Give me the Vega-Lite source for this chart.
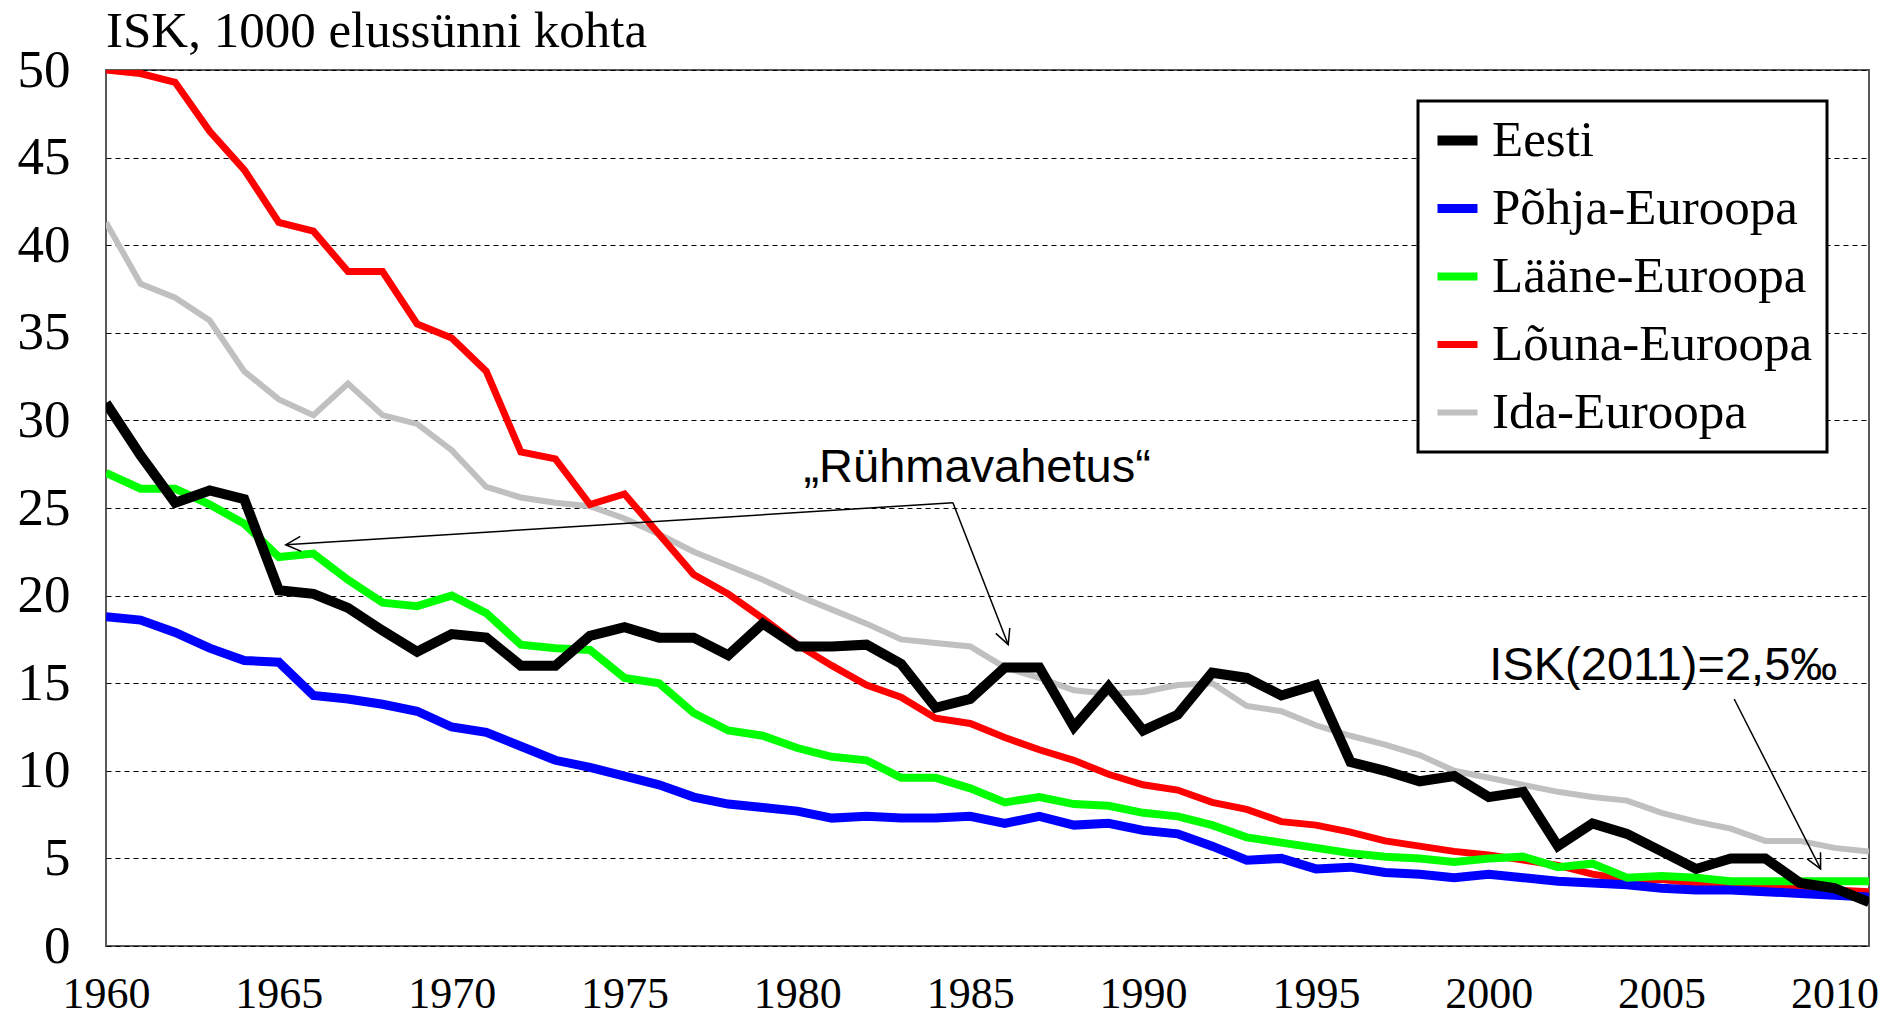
{
  "$schema": "https://vega.github.io/schema/vega-lite/v6.json",
  "width": 1763,
  "height": 876,
  "autosize": {"type": "none"},
  "padding": {"left": 106, "top": 70, "right": 19, "bottom": 74},
  "background": "white",
  "config": {
    "view": {"stroke": "#595959", "strokeWidth": 2},
    "axis": {"labelColor": "black", "ticks": false, "domain": false, "title": null, "labelFlush": false, "labelOverlap": false}
  },
  "datasets": {
    "isk": [
      {"year": 1960, "Eesti": 31.0, "Põhja-Euroopa": 18.8, "Lääne-Euroopa": 27.0, "Lõuna-Euroopa": 50.0, "Ida-Euroopa": 41.3},
      {"year": 1961, "Eesti": 28.0, "Põhja-Euroopa": 18.6, "Lääne-Euroopa": 26.1, "Lõuna-Euroopa": 49.8, "Ida-Euroopa": 37.8},
      {"year": 1962, "Eesti": 25.3, "Põhja-Euroopa": 17.9, "Lääne-Euroopa": 26.1, "Lõuna-Euroopa": 49.3, "Ida-Euroopa": 37.0},
      {"year": 1963, "Eesti": 26.0, "Põhja-Euroopa": 17.0, "Lääne-Euroopa": 25.2, "Lõuna-Euroopa": 46.5, "Ida-Euroopa": 35.7},
      {"year": 1964, "Eesti": 25.5, "Põhja-Euroopa": 16.3, "Lääne-Euroopa": 24.1, "Lõuna-Euroopa": 44.3, "Ida-Euroopa": 32.8},
      {"year": 1965, "Eesti": 20.3, "Põhja-Euroopa": 16.2, "Lääne-Euroopa": 22.2, "Lõuna-Euroopa": 41.3, "Ida-Euroopa": 31.2},
      {"year": 1966, "Eesti": 20.1, "Põhja-Euroopa": 14.3, "Lääne-Euroopa": 22.4, "Lõuna-Euroopa": 40.8, "Ida-Euroopa": 30.3},
      {"year": 1967, "Eesti": 19.3, "Põhja-Euroopa": 14.1, "Lääne-Euroopa": 20.9, "Lõuna-Euroopa": 38.5, "Ida-Euroopa": 32.1},
      {"year": 1968, "Eesti": 18.0, "Põhja-Euroopa": 13.8, "Lääne-Euroopa": 19.6, "Lõuna-Euroopa": 38.5, "Ida-Euroopa": 30.3},
      {"year": 1969, "Eesti": 16.8, "Põhja-Euroopa": 13.4, "Lääne-Euroopa": 19.4, "Lõuna-Euroopa": 35.5, "Ida-Euroopa": 29.8},
      {"year": 1970, "Eesti": 17.8, "Põhja-Euroopa": 12.5, "Lääne-Euroopa": 20.0, "Lõuna-Euroopa": 34.7, "Ida-Euroopa": 28.3},
      {"year": 1971, "Eesti": 17.6, "Põhja-Euroopa": 12.2, "Lääne-Euroopa": 19.0, "Lõuna-Euroopa": 32.8, "Ida-Euroopa": 26.2},
      {"year": 1972, "Eesti": 16.0, "Põhja-Euroopa": 11.4, "Lääne-Euroopa": 17.2, "Lõuna-Euroopa": 28.2, "Ida-Euroopa": 25.6},
      {"year": 1973, "Eesti": 16.0, "Põhja-Euroopa": 10.6, "Lääne-Euroopa": 17.0, "Lõuna-Euroopa": 27.8, "Ida-Euroopa": 25.3},
      {"year": 1974, "Eesti": 17.7, "Põhja-Euroopa": 10.2, "Lääne-Euroopa": 16.9, "Lõuna-Euroopa": 25.2, "Ida-Euroopa": 25.1},
      {"year": 1975, "Eesti": 18.2, "Põhja-Euroopa": 9.7, "Lääne-Euroopa": 15.3, "Lõuna-Euroopa": 25.8, "Ida-Euroopa": 24.4},
      {"year": 1976, "Eesti": 17.6, "Põhja-Euroopa": 9.2, "Lääne-Euroopa": 15.0, "Lõuna-Euroopa": 23.5, "Ida-Euroopa": 23.5},
      {"year": 1977, "Eesti": 17.6, "Põhja-Euroopa": 8.5, "Lääne-Euroopa": 13.3, "Lõuna-Euroopa": 21.2, "Ida-Euroopa": 22.5},
      {"year": 1978, "Eesti": 16.6, "Põhja-Euroopa": 8.1, "Lääne-Euroopa": 12.3, "Lõuna-Euroopa": 20.1, "Ida-Euroopa": 21.7},
      {"year": 1979, "Eesti": 18.4, "Põhja-Euroopa": 7.9, "Lääne-Euroopa": 12.0, "Lõuna-Euroopa": 18.7, "Ida-Euroopa": 20.9},
      {"year": 1980, "Eesti": 17.1, "Põhja-Euroopa": 7.7, "Lääne-Euroopa": 11.3, "Lõuna-Euroopa": 17.2, "Ida-Euroopa": 20.0},
      {"year": 1981, "Eesti": 17.1, "Põhja-Euroopa": 7.3, "Lääne-Euroopa": 10.8, "Lõuna-Euroopa": 16.0, "Ida-Euroopa": 19.2},
      {"year": 1982, "Eesti": 17.2, "Põhja-Euroopa": 7.4, "Lääne-Euroopa": 10.6, "Lõuna-Euroopa": 14.9, "Ida-Euroopa": 18.4},
      {"year": 1983, "Eesti": 16.1, "Põhja-Euroopa": 7.3, "Lääne-Euroopa": 9.6, "Lõuna-Euroopa": 14.2, "Ida-Euroopa": 17.5},
      {"year": 1984, "Eesti": 13.6, "Põhja-Euroopa": 7.3, "Lääne-Euroopa": 9.6, "Lõuna-Euroopa": 13.0, "Ida-Euroopa": 17.3},
      {"year": 1985, "Eesti": 14.1, "Põhja-Euroopa": 7.4, "Lääne-Euroopa": 9.0, "Lõuna-Euroopa": 12.7, "Ida-Euroopa": 17.1},
      {"year": 1986, "Eesti": 15.9, "Põhja-Euroopa": 7.0, "Lääne-Euroopa": 8.2, "Lõuna-Euroopa": 11.9, "Ida-Euroopa": 15.9},
      {"year": 1987, "Eesti": 15.9, "Põhja-Euroopa": 7.4, "Lääne-Euroopa": 8.5, "Lõuna-Euroopa": 11.2, "Ida-Euroopa": 15.3},
      {"year": 1988, "Eesti": 12.5, "Põhja-Euroopa": 6.9, "Lääne-Euroopa": 8.1, "Lõuna-Euroopa": 10.6, "Ida-Euroopa": 14.6},
      {"year": 1989, "Eesti": 14.8, "Põhja-Euroopa": 7.0, "Lääne-Euroopa": 8.0, "Lõuna-Euroopa": 9.8, "Ida-Euroopa": 14.4},
      {"year": 1990, "Eesti": 12.3, "Põhja-Euroopa": 6.6, "Lääne-Euroopa": 7.6, "Lõuna-Euroopa": 9.2, "Ida-Euroopa": 14.5},
      {"year": 1991, "Eesti": 13.2, "Põhja-Euroopa": 6.4, "Lääne-Euroopa": 7.4, "Lõuna-Euroopa": 8.9, "Ida-Euroopa": 14.9},
      {"year": 1992, "Eesti": 15.6, "Põhja-Euroopa": 5.7, "Lääne-Euroopa": 6.9, "Lõuna-Euroopa": 8.2, "Ida-Euroopa": 15.0},
      {"year": 1993, "Eesti": 15.3, "Põhja-Euroopa": 4.9, "Lääne-Euroopa": 6.2, "Lõuna-Euroopa": 7.8, "Ida-Euroopa": 13.7},
      {"year": 1994, "Eesti": 14.3, "Põhja-Euroopa": 5.0, "Lääne-Euroopa": 5.9, "Lõuna-Euroopa": 7.1, "Ida-Euroopa": 13.4},
      {"year": 1995, "Eesti": 14.9, "Põhja-Euroopa": 4.4, "Lääne-Euroopa": 5.6, "Lõuna-Euroopa": 6.9, "Ida-Euroopa": 12.6},
      {"year": 1996, "Eesti": 10.5, "Põhja-Euroopa": 4.5, "Lääne-Euroopa": 5.3, "Lõuna-Euroopa": 6.5, "Ida-Euroopa": 12.0},
      {"year": 1997, "Eesti": 10.0, "Põhja-Euroopa": 4.2, "Lääne-Euroopa": 5.1, "Lõuna-Euroopa": 6.0, "Ida-Euroopa": 11.5},
      {"year": 1998, "Eesti": 9.4, "Põhja-Euroopa": 4.1, "Lääne-Euroopa": 5.0, "Lõuna-Euroopa": 5.7, "Ida-Euroopa": 10.9},
      {"year": 1999, "Eesti": 9.7, "Põhja-Euroopa": 3.9, "Lääne-Euroopa": 4.8, "Lõuna-Euroopa": 5.4, "Ida-Euroopa": 10.0},
      {"year": 2000, "Eesti": 8.5, "Põhja-Euroopa": 4.1, "Lääne-Euroopa": 5.0, "Lõuna-Euroopa": 5.2, "Ida-Euroopa": 9.6},
      {"year": 2001, "Eesti": 8.8, "Põhja-Euroopa": 3.9, "Lääne-Euroopa": 5.1, "Lõuna-Euroopa": 4.9, "Ida-Euroopa": 9.2},
      {"year": 2002, "Eesti": 5.7, "Põhja-Euroopa": 3.7, "Lääne-Euroopa": 4.5, "Lõuna-Euroopa": 4.6, "Ida-Euroopa": 8.8},
      {"year": 2003, "Eesti": 7.0, "Põhja-Euroopa": 3.6, "Lääne-Euroopa": 4.7, "Lõuna-Euroopa": 4.1, "Ida-Euroopa": 8.5},
      {"year": 2004, "Eesti": 6.4, "Põhja-Euroopa": 3.5, "Lääne-Euroopa": 3.9, "Lõuna-Euroopa": 3.8, "Ida-Euroopa": 8.3},
      {"year": 2005, "Eesti": 5.4, "Põhja-Euroopa": 3.3, "Lääne-Euroopa": 4.0, "Lõuna-Euroopa": 3.8, "Ida-Euroopa": 7.6},
      {"year": 2006, "Eesti": 4.4, "Põhja-Euroopa": 3.2, "Lääne-Euroopa": 3.9, "Lõuna-Euroopa": 3.6, "Ida-Euroopa": 7.1},
      {"year": 2007, "Eesti": 5.0, "Põhja-Euroopa": 3.2, "Lääne-Euroopa": 3.7, "Lõuna-Euroopa": 3.4, "Ida-Euroopa": 6.7},
      {"year": 2008, "Eesti": 5.0, "Põhja-Euroopa": 3.1, "Lääne-Euroopa": 3.7, "Lõuna-Euroopa": 3.3, "Ida-Euroopa": 6.0},
      {"year": 2009, "Eesti": 3.6, "Põhja-Euroopa": 3.0, "Lääne-Euroopa": 3.7, "Lõuna-Euroopa": 3.3, "Ida-Euroopa": 6.0},
      {"year": 2010, "Eesti": 3.3, "Põhja-Euroopa": 2.9, "Lääne-Euroopa": 3.7, "Lõuna-Euroopa": 3.2, "Ida-Euroopa": 5.6},
      {"year": 2011, "Eesti": 2.5, "Põhja-Euroopa": 2.8, "Lääne-Euroopa": 3.7, "Lõuna-Euroopa": 3.1, "Ida-Euroopa": 5.4}
    ],
    "arrows": [
      {"x1": 1984.5, "y1": 25.3, "x2": 1965.2, "y2": 22.9, "ang": 176.4},
      {"x1": 1984.5, "y1": 25.3, "x2": 1986.1, "y2": 17.2, "ang": 68.7},
      {"x1": 2007.1, "y1": 14.1, "x2": 2009.6, "y2": 4.4, "ang": 63.1}
    ],
    "labels": [
      {"x": 1985.2, "y": 26.5, "label": "„Rühmavahetus“"},
      {"x": 2005.05, "y": 15.2, "label": "ISK(2011)=2,5‰"}
    ],
    "heading": [
      {"x": 1960, "y": 51.3, "label": "ISK, 1000 elussünni kohta"}
    ]
  },
  "layer": [
    {
      "data": {"name": "isk"},
      "transform": [
        {"fold": ["Ida-Euroopa", "Lõuna-Euroopa", "Põhja-Euroopa", "Lääne-Euroopa", "Eesti"], "as": ["region", "value"]}
      ],
      "mark": {"type": "line", "clip": true, "strokeJoin": "miter", "strokeCap": "butt"},
      "encoding": {
        "x": {
          "field": "year", "type": "quantitative",
          "scale": {"domain": [1960, 2011], "nice": false, "zero": false},
          "axis": {
            "values": [1960, 1965, 1970, 1975, 1980, 1985, 1990, 1995, 2000, 2005, 2010],
            "format": "d", "grid": false,
            "labelFont": "Liberation Serif", "labelFontSize": 44, "labelPadding": 26
          }
        },
        "y": {
          "field": "value", "type": "quantitative",
          "scale": {"domain": [0, 50], "nice": false},
          "axis": {
            "values": [0, 5, 10, 15, 20, 25, 30, 35, 40, 45, 50],
            "grid": true, "gridDash": [5, 4], "gridColor": "black", "gridWidth": 1.2, "gridOpacity": 1,
            "labelFont": "Liberation Serif", "labelFontSize": 53, "labelPadding": 36
          }
        },
        "color": {
          "field": "region", "type": "nominal",
          "scale": {
            "domain": ["Eesti", "Põhja-Euroopa", "Lääne-Euroopa", "Lõuna-Euroopa", "Ida-Euroopa"],
            "range": ["#000000", "#0000FF", "#00FF00", "#FF0000", "#C0C0C0"]
          },
          "legend": {
            "title": null,
            "orient": "none",
            "legendX": 1312,
            "legendY": 31,
            "direction": "vertical",
            "symbolType": "stroke",
            "symbolSize": 1600,
            "labelFont": "Liberation Serif",
            "labelFontSize": 51,
            "labelColor": "black",
            "labelLimit": 500,
            "labelOffset": 9,
            "rowPadding": 16,
            "padding": 14,
            "strokeColor": "black",
            "fillColor": "white",
            "encode": {"legend": {"update": {"strokeWidth": {"value": 3}}}}
          }
        },
        "strokeWidth": {
          "field": "region", "type": "nominal",
          "scale": {
            "domain": ["Eesti", "Põhja-Euroopa", "Lääne-Euroopa", "Lõuna-Euroopa", "Ida-Euroopa"],
            "range": [10, 6, 6, 6, 6]
          },
          "legend": null
        }
      }
    },
    {
      "data": {"name": "arrows"},
      "mark": {"type": "rule", "color": "black", "strokeWidth": 1.5},
      "encoding": {
        "x": {"field": "x1", "type": "quantitative"},
        "y": {"field": "y1", "type": "quantitative"},
        "x2": {"field": "x2"},
        "y2": {"field": "y2"}
      }
    },
    {
      "data": {"name": "arrows"},
      "mark": {"type": "point", "shape": "M-1,-0.5L0,0L-1,0.5", "filled": false, "stroke": "black", "strokeWidth": 1.5, "size": 900, "opacity": 1},
      "encoding": {
        "x": {"field": "x2", "type": "quantitative"},
        "y": {"field": "y2", "type": "quantitative"},
        "angle": {"field": "ang", "type": "quantitative", "scale": null}
      }
    },
    {
      "data": {"name": "labels"},
      "mark": {"type": "text", "font": "Liberation Sans", "fontSize": 47, "color": "black", "align": "center", "baseline": "alphabetic"},
      "encoding": {
        "x": {"field": "x", "type": "quantitative"},
        "y": {"field": "y", "type": "quantitative"},
        "text": {"field": "label"}
      }
    },
    {
      "data": {"name": "heading"},
      "mark": {"type": "text", "font": "Liberation Serif", "fontSize": 51, "color": "black", "align": "left", "baseline": "alphabetic", "clip": false},
      "encoding": {
        "x": {"field": "x", "type": "quantitative"},
        "y": {"field": "y", "type": "quantitative"},
        "text": {"field": "label"}
      }
    }
  ]
}
